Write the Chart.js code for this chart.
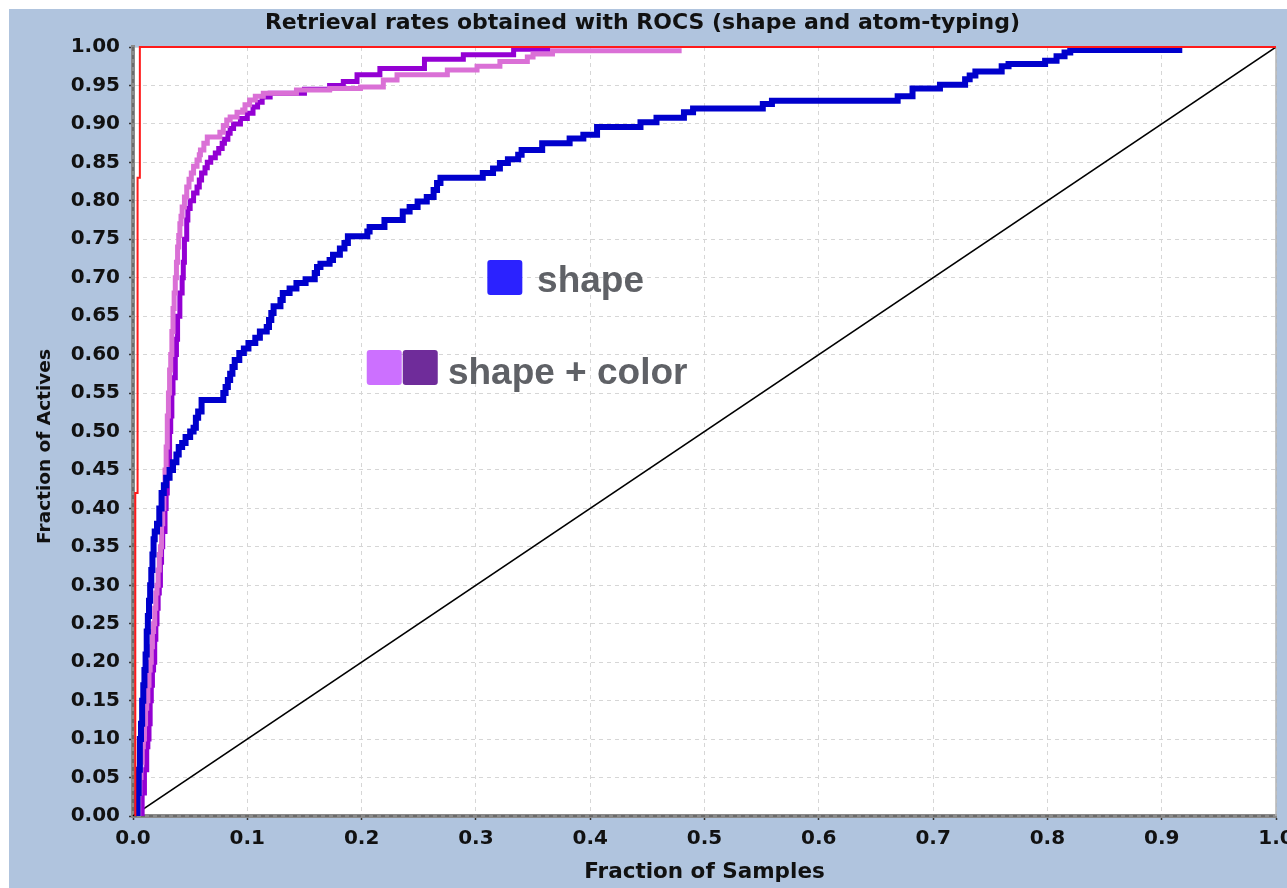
<!DOCTYPE html>
<html>
<head>
<meta charset="utf-8">
<title>Retrieval rates obtained with ROCS</title>
<script src="https://cdn.jsdelivr.net/npm/chart.js@4/dist/chart.umd.min.js"></script>
<style>
    html, body { margin: 0; padding: 0; background: #ffffff; }
    #wrap { position: absolute; left: 9px; top: 9px; width: 1278px; height: 879px; }
</style>
</head>
<body>
<div id="wrap"><canvas id="rocChart"></canvas></div>
<script>
// Tick labels
const xTickLabels = ['0.0', '0.1', '0.2', '0.3', '0.4', '0.5', '0.6', '0.7', '0.8', '0.9', '1.0'];
const yTickLabels = ['0.00', '0.05', '0.10', '0.15', '0.20', '0.25', '0.30', '0.35', '0.40', '0.45', '0.50',
    '0.55', '0.60', '0.65', '0.70', '0.75', '0.80', '0.85', '0.90', '0.95', '1.00'];

// shape only (blue) - x where the curve steps up, and the new fraction of actives
const shapeX = [0.002, 0.004, 0.005, 0.006, 0.007, 0.008, 0.009, 0.010, 0.011, 0.012, 0.013, 0.014, 0.015, 0.016,
    0.017, 0.018, 0.019, 0.021, 0.023, 0.025, 0.027, 0.029, 0.032, 0.035, 0.038, 0.040, 0.043, 0.046, 0.050, 0.053,
    0.055, 0.057, 0.060, 0.079, 0.081, 0.083, 0.085, 0.087, 0.089, 0.093, 0.097, 0.101, 0.107, 0.111, 0.117, 0.119,
    0.121, 0.123, 0.129, 0.131, 0.137, 0.143, 0.151, 0.159, 0.161, 0.164, 0.172, 0.175, 0.181, 0.185, 0.188, 0.205,
    0.207, 0.220, 0.236, 0.242, 0.249, 0.257, 0.263, 0.266, 0.269, 0.306, 0.315, 0.321, 0.328, 0.337, 0.340, 0.358,
    0.382, 0.394, 0.406, 0.444, 0.458, 0.482, 0.490, 0.551, 0.559, 0.669, 0.682, 0.706, 0.728, 0.732, 0.737, 0.760,
    0.766, 0.798, 0.808, 0.815, 0.820, 0.918];
const shapeY = [0, 0.03, 0.06, 0.10, 0.12, 0.15, 0.17, 0.19, 0.21, 0.24, 0.26, 0.28, 0.30, 0.32,
    0.34, 0.36, 0.37, 0.38, 0.40, 0.42, 0.43, 0.44, 0.45, 0.46, 0.47, 0.48, 0.485, 0.493, 0.50, 0.505,
    0.518, 0.526, 0.541, 0.55, 0.558, 0.567, 0.575, 0.584, 0.593, 0.602, 0.608, 0.615, 0.622, 0.630, 0.636, 0.645,
    0.654, 0.663, 0.671, 0.680, 0.686, 0.693, 0.698, 0.706, 0.714, 0.718, 0.723, 0.730, 0.738, 0.745, 0.754, 0.760,
    0.766, 0.775, 0.786, 0.792, 0.799, 0.805, 0.814, 0.823, 0.830, 0.836, 0.842, 0.849, 0.854, 0.860, 0.866, 0.875,
    0.881, 0.886, 0.896, 0.902, 0.908, 0.915, 0.920, 0.926, 0.930, 0.936, 0.946, 0.951, 0.958, 0.963, 0.968, 0.975,
    0.978, 0.982, 0.988, 0.993, 0.996, 0.996];

// shape + color, dark violet run
const colorDarkX = [0.006, 0.008, 0.010, 0.012, 0.013, 0.014, 0.015, 0.016, 0.017, 0.018, 0.019, 0.020, 0.021,
    0.022, 0.023, 0.024, 0.025, 0.026, 0.028, 0.029, 0.030, 0.031, 0.032, 0.033, 0.034, 0.035, 0.037, 0.038, 0.039,
    0.041, 0.043, 0.044, 0.045, 0.047, 0.048, 0.050, 0.053, 0.056, 0.058, 0.060, 0.063, 0.065, 0.068, 0.072, 0.075,
    0.078, 0.080, 0.083, 0.085, 0.088, 0.094, 0.100, 0.105, 0.109, 0.113, 0.120, 0.150, 0.172, 0.184, 0.196, 0.216,
    0.255, 0.289, 0.333, 0.365];
const colorDarkY = [0, 0.03, 0.06, 0.09, 0.10, 0.12, 0.15, 0.17, 0.19, 0.20, 0.23, 0.25, 0.27,
    0.29, 0.30, 0.33, 0.35, 0.37, 0.40, 0.42, 0.44, 0.45, 0.50, 0.52, 0.55, 0.57, 0.60, 0.62, 0.65,
    0.68, 0.70, 0.72, 0.75, 0.775, 0.79, 0.80, 0.81, 0.818, 0.827, 0.836, 0.843, 0.850, 0.856, 0.862, 0.868,
    0.875, 0.880, 0.888, 0.894, 0.900, 0.907, 0.914, 0.922, 0.928, 0.935, 0.940, 0.945, 0.950, 0.955, 0.964, 0.972,
    0.984, 0.990, 0.997, 0.997];

// shape + color, orchid run
const colorLightX = [0.004, 0.005, 0.006, 0.007, 0.008, 0.009, 0.010, 0.011, 0.012, 0.013, 0.014, 0.015, 0.016,
    0.017, 0.018, 0.019, 0.020, 0.021, 0.022, 0.023, 0.024, 0.025, 0.026, 0.027, 0.028, 0.029, 0.030, 0.031, 0.032,
    0.033, 0.034, 0.035, 0.036, 0.037, 0.038, 0.039, 0.040, 0.041, 0.042, 0.043, 0.045, 0.047, 0.049, 0.051, 0.053,
    0.056, 0.058, 0.059, 0.062, 0.065, 0.076, 0.079, 0.082, 0.085, 0.091, 0.096, 0.098, 0.102, 0.107, 0.114, 0.143,
    0.172, 0.199, 0.219, 0.231, 0.275, 0.301, 0.321, 0.345, 0.350, 0.367, 0.480];
const colorLightY = [0, 0.03, 0.05, 0.07, 0.09, 0.10, 0.12, 0.14, 0.15, 0.17, 0.19, 0.20, 0.22,
    0.24, 0.25, 0.27, 0.29, 0.30, 0.32, 0.34, 0.35, 0.38, 0.40, 0.43, 0.45, 0.48, 0.52, 0.55, 0.58,
    0.60, 0.63, 0.66, 0.68, 0.70, 0.72, 0.74, 0.755, 0.77, 0.78, 0.792, 0.805, 0.818, 0.828, 0.836, 0.845,
    0.853, 0.860, 0.866, 0.875, 0.883, 0.889, 0.898, 0.905, 0.909, 0.915, 0.918, 0.925, 0.931, 0.936, 0.940, 0.944,
    0.946, 0.948, 0.957, 0.964, 0.970, 0.975, 0.981, 0.987, 0.991, 0.995, 0.995];

// ideal retrieval (red) and random (black diagonal)
const idealX = [0.002, 0.004, 0.006, 1.0];
const idealY = [0, 0.42, 0.83, 1.0];
const randomX = [0, 1];
const randomY = [0, 1];

const keyLabels = ['shape', 'shape + color'];
const yAxisTitle = 'Fraction of Actives';

const toPoints = (xs, ys) => xs.map((x, i) => ({ x: x, y: ys[i] }));

const FONT = '"DejaVu Sans", Verdana, sans-serif';

// plot background, axis dashes, y axis title
const backdrop = {
    id: 'backdrop',
    beforeDraw(chart) {
        const { ctx, chartArea: a } = chart;
        ctx.save();
        ctx.fillStyle = '#b0c4de';
        ctx.fillRect(0, 0, chart.width, chart.height);
        ctx.fillStyle = '#ffffff';
        ctx.fillRect(a.left, a.top, a.right - a.left, a.bottom - a.top);
        ctx.restore();
    },
    beforeDatasetsDraw(chart) {
        const { ctx, chartArea: a } = chart;
        ctx.save();
        ctx.strokeStyle = '#b4b4b4';
        ctx.lineWidth = 1.5;
        ctx.beginPath();
        ctx.moveTo(a.right, a.top);
        ctx.lineTo(a.right, a.bottom);
        ctx.stroke();
        // darker dashes over the grey axis lines
        ctx.strokeStyle = '#4a4a4a';
        ctx.lineWidth = 1;
        ctx.setLineDash([4, 4]);
        ctx.beginPath();
        ctx.moveTo(a.left, a.bottom);
        ctx.lineTo(a.right, a.bottom);
        ctx.moveTo(a.left, a.top);
        ctx.lineTo(a.left, a.bottom);
        ctx.stroke();
        ctx.restore();

        // y axis title, sits a little below the middle of the axis
        ctx.save();
        ctx.translate(36, (a.top + a.bottom) / 2 + 15);
        ctx.rotate(-Math.PI / 2);
        ctx.font = 'bold 18.5px ' + FONT;
        ctx.fillStyle = '#111111';
        ctx.textAlign = 'center';
        ctx.textBaseline = 'middle';
        ctx.fillText(yAxisTitle, 0, 0);
        ctx.restore();
    }
};

function keyBox(ctx, px, py, color) {
    ctx.fillStyle = color;
    ctx.beginPath();
    if (ctx.roundRect) ctx.roundRect(px, py, 35, 35, 3);
    else ctx.rect(px, py, 35, 35);
    ctx.fill();
}

const keyNote = {
    id: 'keyNote',
    afterDatasetsDraw(chart) {
        const { ctx, scales: { x, y } } = chart;
        ctx.save();
        keyBox(ctx, x.getPixelForValue(0.310), y.getPixelForValue(0.723), '#2b22ff');
        keyBox(ctx, x.getPixelForValue(0.2045), y.getPixelForValue(0.606), '#cc70ff');
        keyBox(ctx, x.getPixelForValue(0.236), y.getPixelForValue(0.606), '#6f2c9a');
        ctx.font = 'bold 37px "Liberation Sans", Arial, sans-serif';
        ctx.fillStyle = '#5f6166';
        ctx.textBaseline = 'alphabetic';
        ctx.textAlign = 'left';
        ctx.fillText(keyLabels[0], x.getPixelForValue(0.3535), y.getPixelForValue(0.681));
        ctx.fillText(keyLabels[1], x.getPixelForValue(0.2755), y.getPixelForValue(0.562));
        ctx.restore();
    }
};

const lineStyle = {
    pointRadius: 0,
    pointHoverRadius: 0,
    fill: false,
    tension: 0,
    borderJoinStyle: 'miter',
    borderCapStyle: 'butt'
};

const ctx = document.getElementById('rocChart').getContext('2d');
new Chart(ctx, {
    type: 'line',
    data: {
        datasets: [
            { ...lineStyle, label: 'ideal', data: toPoints(idealX, idealY), borderColor: '#ff1a1a', borderWidth: 2, stepped: 'after', order: 0, clip: 4 },
            { ...lineStyle, label: 'shape', data: toPoints(shapeX, shapeY), borderColor: '#0000cc', borderWidth: 6, stepped: true, order: 1 },
            { ...lineStyle, label: 'shape + color (a)', data: toPoints(colorLightX, colorLightY), borderColor: '#da70d6', borderWidth: 5, stepped: true, order: 2 },
            { ...lineStyle, label: 'shape + color (b)', data: toPoints(colorDarkX, colorDarkY), borderColor: '#9400d3', borderWidth: 5, stepped: true, order: 3 },
            { ...lineStyle, label: 'random', data: toPoints(randomX, randomY), borderColor: '#000000', borderWidth: 1.5, order: 4 }
        ]
    },
    options: {
        responsive: true,
        maintainAspectRatio: false,
        animation: false,
        events: [],
        layout: { padding: { top: 0, left: 0, right: 11, bottom: 0 } },
        plugins: {
            legend: { display: false },
            tooltip: { enabled: false },
            title: {
                display: true,
                text: 'Retrieval rates obtained with ROCS (shape and atom-typing)',
                color: '#111111',
                font: { family: FONT, size: 22, weight: 'bold' },
                padding: { top: 1, bottom: 10.6 }
            }
        },
        scales: {
            x: {
                type: 'linear',
                min: 0,
                max: 1,
                afterFit: s => { s.height = 72; s.paddingLeft = 0; s.paddingRight = 0; },
                ticks: {
                    stepSize: 0.1,
                    autoSkip: false,
                    maxRotation: 0,
                    padding: 7,
                    color: '#111111',
                    font: { family: FONT, size: 20, weight: 'bold' },
                    callback: (v, i) => xTickLabels[i]
                },
                grid: { color: '#d6d6d6', lineWidth: 1, tickLength: 4, tickColor: '#333333', tickWidth: 1.5 },
                border: { display: true, color: '#8a8a8a', width: 4, dash: [4, 4] },
                title: {
                    display: true,
                    text: 'Fraction of Samples',
                    color: '#111111',
                    font: { family: FONT, size: 21.5, weight: 'bold' },
                    padding: { top: 0, bottom: 3 }
                }
            },
            y: {
                type: 'linear',
                min: 0,
                max: 1,
                afterFit: s => { s.width = 124; },
                ticks: {
                    stepSize: 0.05,
                    autoSkip: false,
                    padding: 9,
                    color: '#111111',
                    font: { family: FONT, size: 20, weight: 'bold' },
                    callback: (v, i) => yTickLabels[i]
                },
                grid: { color: '#d6d6d6', lineWidth: 1, tickLength: 4, tickColor: '#333333', tickWidth: 1.5 },
                border: { display: true, color: '#8a8a8a', width: 4, dash: [4, 4] },
                title: { display: false }
            }
        }
    },
    plugins: [backdrop, keyNote]
});
</script>
</body>
</html>
